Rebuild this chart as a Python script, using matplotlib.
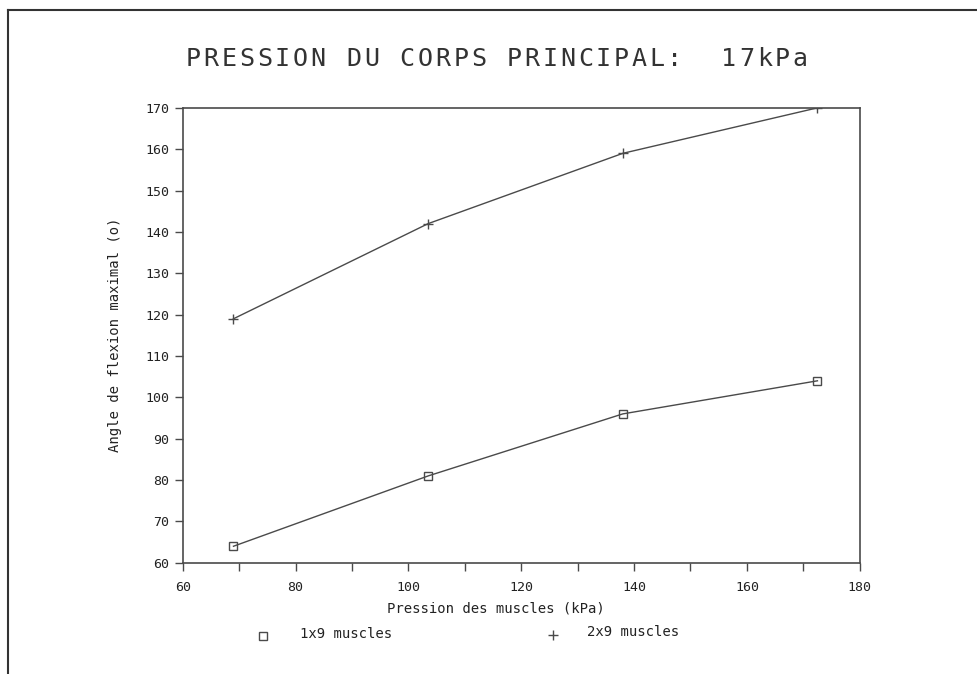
import matplotlib.pyplot as plt
import numpy as np
from matplotlib.lines import Line2D
from matplotlib.ticker import MultipleLocator

# pressure in the muscles (kPa)
pression = [69, 103.5, 138, 172.5]
angle_1x9 = [64, 81, 96, 104]
angle_2x9 = [119, 142, 159, 170]

titre = "PRESSION DU CORPS PRINCIPAL:  17kPa"
label_x = "Pression des muscles (kPa)"
label_y = "Angle de flexion maximal (o)"
noms = ["1x9 muscles", "2x9 muscles"]

plt.rcParams['font.family'] = 'DejaVu Sans Mono'
gris = "#4a4a4a"
encre = "#222222"
W, H = 977, 674
fig = plt.figure(figsize=(W / 100, H / 100), dpi=100)
ax = fig.add_axes([0.187, 0.165, 0.693, 0.675])

ax.plot(pression, angle_1x9, color=gris, lw=1, marker="s", ms=6, mfc="none", mec=gris, mew=1)
ax.plot(pression, angle_2x9, color=gris, lw=1, marker="+", ms=7, mew=1)

ax.set_xlim(60, 180)
ax.set_ylim(60, 170)
ax.xaxis.set_major_locator(MultipleLocator(20))
ax.xaxis.set_minor_locator(MultipleLocator(10))
ax.yaxis.set_major_locator(MultipleLocator(10))
ax.tick_params(axis="both", which="both", direction="out", length=6, width=1, color=gris,
               labelsize=9.5, labelcolor=encre, top=False, right=False)
ax.tick_params(axis="x", pad=7)
for s in ax.spines.values():
    s.set_color(gris)
    s.set_linewidth(1.2)

ax.set_xlabel(label_x, fontsize=10, color=encre)
ax.xaxis.set_label_coords(0.462, -0.086)
ax.set_ylabel(label_y, fontsize=10, color=encre)
ax.yaxis.set_label_coords(-0.089, 0.501)

# title in a wide plotter-like spacing: one glyph per fixed cell
x0, pas = 184, 17.85
for i, c in enumerate(titre):
    fig.text((x0 + pas * (i + 0.5)) / W, 1 - 59 / H, c, ha="center", va="center",
             fontsize=18, color="#333333")

# legend row under the x label
fig.add_artist(Line2D([0.269], [0.056], marker="s", ms=6, mfc="none", mec=gris, mew=1,
                      transform=fig.transFigure))
fig.text(0.307, 0.060, noms[0], ha="left", va="center", fontsize=10, color=encre)
fig.add_artist(Line2D([0.566], [0.058], marker="+", ms=7, mec=gris, mew=1,
                      transform=fig.transFigure))
fig.text(0.601, 0.062, noms[1], ha="left", va="center", fontsize=10, color=encre)

# page frame (top and left edges)
fig.add_artist(Line2D([0.008, 1.0], [0.985, 0.985], color="#333333", lw=1.5, transform=fig.transFigure))
fig.add_artist(Line2D([0.008, 0.008], [0.0, 0.985], color="#333333", lw=1.5, transform=fig.transFigure))

fig.savefig("out.png", dpi=100)
